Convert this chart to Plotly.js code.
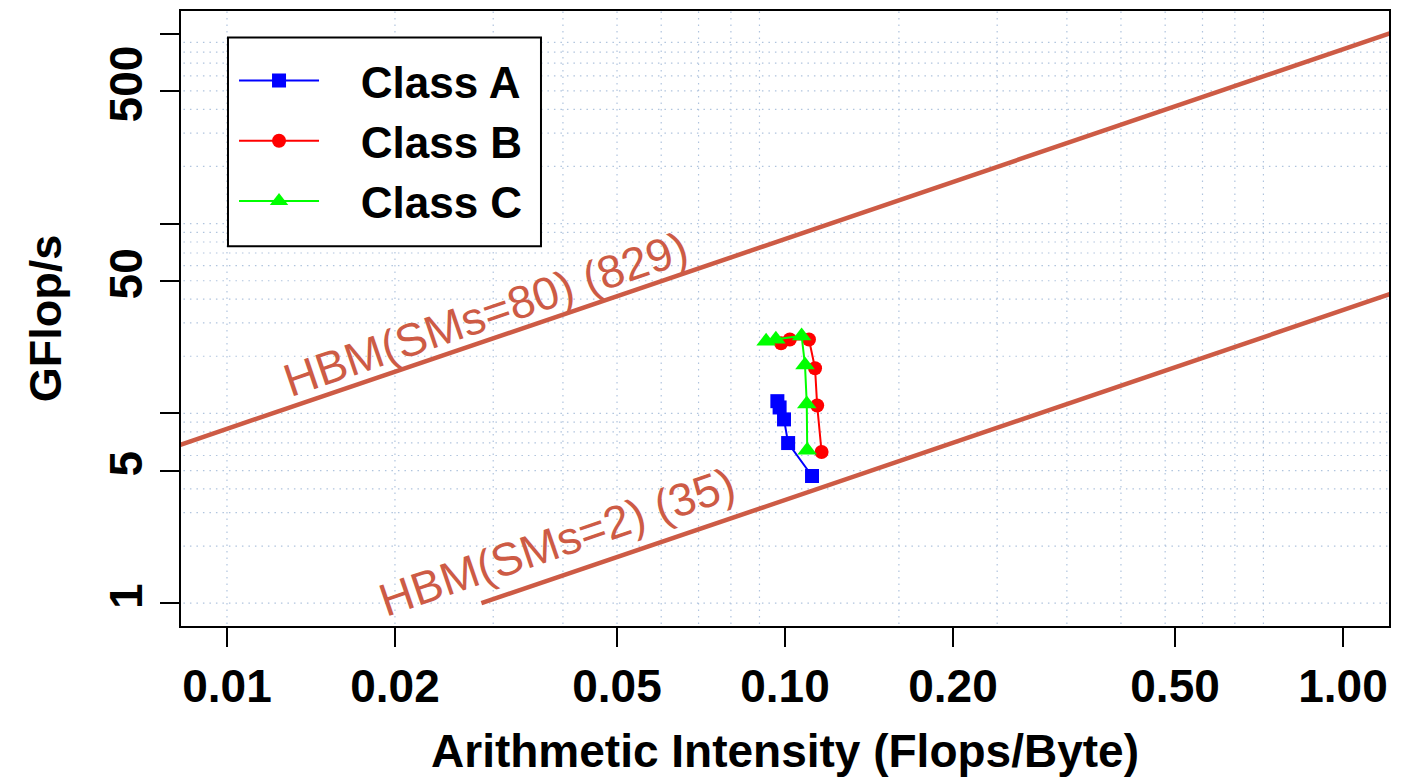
<!DOCTYPE html>
<html>
<head>
<meta charset="utf-8">
<script src="https://cdn.plot.ly/plotly-3.0.1.min.js"></script>
<style>
  html, body { margin: 0; padding: 0; background: #ffffff; }
  #chart { width: 1411px; height: 779px; }
</style>
</head>
<body>
<div id="chart"></div>
<script>
// ---- data ----
const classNames = ["Class A", "Class B", "Class C"];
const classA_ai = [0.0969, 0.0978, 0.0996, 0.1013, 0.1118];
const classA_gf = [11.6, 10.75, 9.30, 6.98, 4.68];
const classB_ai = [0.0984, 0.1020, 0.1104, 0.1132, 0.1142, 0.1163];
const classB_gf = [23.4, 24.5, 24.5, 17.3, 11.0, 6.26];
const classC_ai = [0.0925, 0.0963, 0.1071, 0.1086, 0.1094, 0.1096];
const classC_gf = [24.0, 24.6, 25.6, 18.0, 11.2, 6.39];

// rooflines: bandwidth and labels
const roofNames = ["HBM(SMs=80) (829)", "HBM(SMs=2) (35)"];
const roofBandwidth = [829, 35];
const roofEndAI = [10, 10];
// roofline label centres (data units)
const roofLabelAI = [0.02905, 0.03896];
const roofLabelGF = [33.4, 2.107];

// axis ticks
const xTickVals = [0.01, 0.02, 0.05, 0.1, 0.2, 0.5, 1];
const xTickText = ["0.01", "0.02", "0.05", "0.10", "0.20", "0.50", "1.00"];
const yTickVals = [1, 5, 10, 50, 100, 500, 1000];
const yTickText = ["1", "5", "", "50", "", "500", ""];

// grid line positions
const gridX = [0.01, 0.02, 0.03, 0.04, 0.05, 0.06, 0.07, 0.08, 0.09,
               0.16, 0.24, 0.32, 0.40, 0.48, 0.56, 0.64, 0.72];
const gridY = [1, 2, 3, 4, 5, 6, 7, 8, 9,
               10, 20, 30, 40, 50, 60, 70, 80, 90,
               100, 200, 300, 400, 500, 600, 700, 800, 900];

// ---- styling ----
const FONT = "Liberation Sans, Arial, Helvetica, sans-serif";
const ROOF_COLOR = "#CD5B45";
const GRID_COLOR = "#b0c4de";
const X_RANGE = [-2.0824, 0.0824];
const Y_RANGE = [-0.12, 3.12];
const NBSP3 = "\u00A0\u00A0\u00A0";

// grid traces
const gxX = [], gxY = [];
gridX.forEach(v => { gxX.push(v, v, null); gxY.push(0.1, 1e5, null); });
const gyX = [], gyY = [];
gridY.forEach(v => { gyX.push(1e-4, 100, null); gyY.push(v, v, null); });

const gridStyle = { color: GRID_COLOR, width: 1.2, dash: "1.5px,5px" };

const traces = [
  { x: gxX, y: gxY, mode: "lines", line: gridStyle, hoverinfo: "skip", showlegend: false },
  { x: gyX, y: gyY, mode: "lines", line: gridStyle, hoverinfo: "skip", showlegend: false }
];

roofBandwidth.forEach((bw, i) => {
  traces.push({
    x: [1 / bw, roofEndAI[i]],
    y: [1, bw * roofEndAI[i]],
    mode: "lines",
    line: { color: ROOF_COLOR, width: 4.5 },
    hoverinfo: "skip",
    showlegend: false
  });
});

const series = [
  { name: classNames[0], x: classA_ai, y: classA_gf, color: "#0000FF", symbol: "square", size: 14 },
  { name: classNames[1], x: classB_ai, y: classB_gf, color: "#FF0000", symbol: "circle", size: 14 },
  { name: classNames[2], x: classC_ai, y: classC_gf, color: "#00FF00", symbol: "triangle-up", size: 17 }
];
series.forEach((s, i) => {
  traces.push({
    x: s.x, y: s.y, name: NBSP3 + s.name,
    mode: "lines+markers",
    line: { color: s.color, width: 2 },
    marker: { color: s.color, symbol: s.symbol, size: s.size },
    legendgroup: "g" + i
  });
});

const annotations = roofNames.map((t, i) => ({
  x: Math.log10(roofLabelAI[i]),
  y: Math.log10(roofLabelGF[i]),
  xref: "x", yref: "y",
  text: t,
  showarrow: false,
  textangle: -18.8,
  xanchor: "center", yanchor: "middle",
  font: { family: FONT, size: 46, color: ROOF_COLOR }
}));

const layout = {
  width: 1411, height: 779,
  margin: { l: 181, r: 22, t: 10.5, b: 153 },
  paper_bgcolor: "#ffffff",
  plot_bgcolor: "#ffffff",
  font: { family: FONT, color: "#000000" },
  showlegend: true,
  legend: {
    x: 0.0439, y: 0.944, xanchor: "left", yanchor: "top",
    bgcolor: "rgba(0,0,0,0)", borderwidth: 0,
    font: { family: FONT, size: 44, weight: "bold", color: "#000000" },
    itemwidth: 80,
    tracegroupgap: 0
  },
  shapes: [{
    type: "rect", xref: "paper", yref: "paper",
    x0: 0.0389, x1: 0.298, y0: 0.6174, y1: 0.9569,
    line: { color: "#000000", width: 2 },
    fillcolor: "#ffffff", layer: "above"
  }],
  xaxis: {
    type: "log", range: X_RANGE,
    tickmode: "array", tickvals: xTickVals, ticktext: xTickText,
    ticks: "outside", ticklen: 19, tickwidth: 2, tickcolor: "#000000",
    showline: true, mirror: true, linecolor: "#000000", linewidth: 2,
    showgrid: false, zeroline: false,
    tickfont: { family: FONT, size: 46, weight: "bold" },
    title: { text: "Arithmetic Intensity (Flops/Byte)", standoff: 24,
             font: { family: FONT, size: 46, weight: "bold" } }
  },
  yaxis: {
    type: "log", range: Y_RANGE,
    tickmode: "array", tickvals: yTickVals, ticktext: yTickText,
    tickangle: -90,
    ticks: "outside", ticklen: 19, tickwidth: 2, tickcolor: "#000000",
    showline: true, mirror: true, linecolor: "#000000", linewidth: 2,
    showgrid: false, zeroline: false,
    tickfont: { family: FONT, size: 46, weight: "bold" },
    title: { text: "GFlop/s", standoff: 24,
             font: { family: FONT, size: 45, weight: "bold" } }
  },
  annotations: annotations
};

Plotly.newPlot("chart", traces, layout, { displayModeBar: false, staticPlot: true });
</script>
</body>
</html>
